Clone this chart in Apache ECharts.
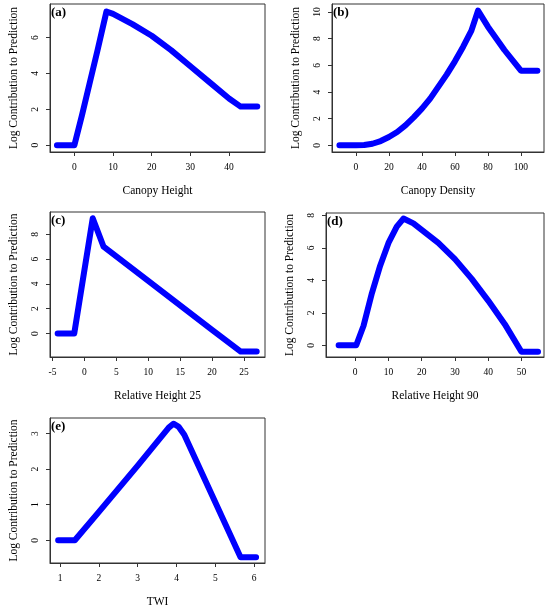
<!DOCTYPE html>
<html>
<head>
    <meta charset="utf-8">
    <title>Response curves</title>
    <script src="https://cdn.jsdelivr.net/npm/echarts@6/dist/echarts.min.js"></script>
    <style>
        html, body { margin: 0; padding: 0; background: #fff; }
    </style>
</head>
<body>
<div id="main" style="width: 550px;height:612px;"></div>

<script>
    // values
    var canopyHeightX = [-4.5, 0, 2, 4, 6, 8.3, 10, 15, 20, 25, 30, 35, 40, 43, 47.3];
    var canopyHeightY = [0, 0, 1.7, 3.5, 5.3, 7.45, 7.32, 6.75, 6.1, 5.3, 4.4, 3.5, 2.6, 2.15, 2.15];

    var canopyDensityX = [-10, 0, 5, 10, 15, 20, 25, 30, 35, 40, 45, 50, 55, 60, 65, 70, 74, 80, 90, 100, 110];
    var canopyDensityY = [0, 0, 0.02, 0.12, 0.32, 0.62, 1.0, 1.5, 2.1, 2.75, 3.5, 4.4, 5.3, 6.3, 7.4, 8.6, 10.1, 8.9, 7.15, 5.6, 5.6];

    var rh25X = [-4.2, -1.6, 1.3, 3, 10, 20, 24.5, 27];
    var rh25Y = [0, 0, 9.3, 7.0, 4.25, 0.3, -1.45, -1.45];

    var rh90X = [-5, 0.3, 2.5, 5, 7.5, 10, 12.5, 14.5, 17.5, 20, 25, 30, 35, 40, 45, 50, 55];
    var rh90Y = [0, 0, 1.2, 3.2, 4.9, 6.3, 7.3, 7.8, 7.5, 7.1, 6.3, 5.3, 4.1, 2.75, 1.3, -0.4, -0.4];

    var twiX = [0.95, 1.38, 2, 3, 3.8, 3.92, 4.05, 4.2, 5.65, 6.05];
    var twiY = [0, 0, 0.8, 2.1, 3.17, 3.28, 3.2, 2.97, -0.48, -0.48];

    var xTitles = ['Canopy Height', 'Canopy Density', 'Relative Height 25', 'Relative Height 90', 'TWI'];
    var panelTags = ['(a)', '(b)', '(c)', '(d)', '(e)'];
    var yTitle = 'Log Contribution to Prediction';

    var xTicks = [
        [0, 10, 20, 30, 40],
        [0, 20, 40, 60, 80, 100],
        [-5, 0, 5, 10, 15, 20, 25],
        [0, 10, 20, 30, 40, 50],
        [1, 2, 3, 4, 5, 6]
    ];
    var yTicks = [
        [0, 2, 4, 6],
        [0, 2, 4, 6, 8, 10],
        [0, 2, 4, 6, 8],
        [0, 2, 4, 6, 8],
        [0, 1, 2, 3]
    ];
    var xRanges = [[-6.3, 49.3], [-14.5, 114], [-5.4, 28.3], [-8.8, 56.8], [0.74, 6.28]];
    var yRanges = [[-0.38, 7.87], [-0.5, 10.6], [-1.89, 9.8], [-0.72, 8.14], [-0.64, 3.44]];

    var seriesX = [canopyHeightX, canopyDensityX, rh25X, rh90X, twiX];
    var seriesY = [canopyHeightY, canopyDensityY, rh25Y, rh90Y, twiY];

    // panel boxes in px
    var boxes = [
        {left: 50, top: 4, width: 215, height: 148},
        {left: 332, top: 4, width: 212, height: 148},
        {left: 50, top: 212, width: 215, height: 145},
        {left: 326, top: 213, width: 218, height: 144},
        {left: 50, top: 418, width: 215, height: 145}
    ];

    var serif = 'Liberation Serif';
    var ink = '#333';
    var grids = [], xAxes = [], yAxes = [], series = [], titles = [];

    function pairs(xs, ys) {
        var out = [];
        for (var i = 0; i < xs.length; i++) out.push([xs[i], ys[i]]);
        return out;
    }

    // labels + title live on the normal axis; ticks go on the opposite-side axis
    // pulled across the box with a negative offset (custom ticks drop out when
    // the same axis also has custom labels)
    function labelAxis(i, range, ticks, name, rotated) {
        return {
            type: 'value', gridIndex: i, position: rotated ? 'left' : 'bottom',
            min: range[0], max: range[1],
            name: name, nameLocation: 'middle', nameGap: rotated ? 30 : 33,
            nameRotate: rotated ? 90 : 0,
            nameTextStyle: {fontFamily: serif, fontSize: 11.5, color: '#000'},
            axisLine: {show: false, onZero: false},
            axisTick: {show: false},
            axisLabel: {customValues: ticks, rotate: rotated ? 90 : 0, fontFamily: serif, fontSize: 9.5, color: '#000', margin: 10},
            splitLine: {show: false}
        };
    }
    function tickAxis(i, range, ticks, rotated, span) {
        return {
            type: 'value', gridIndex: i, position: rotated ? 'right' : 'top',
            offset: -span,
            min: range[0], max: range[1],
            axisLine: {show: true, onZero: false, lineStyle: {color: ink, width: 1}},
            axisTick: {show: true, inside: true, length: 4, customValues: ticks, lineStyle: {color: ink, width: 1}},
            axisLabel: {show: false},
            splitLine: {show: false}
        };
    }

    for (var i = 0; i < 5; i++) {
        var b = boxes[i];
        grids.push({
            left: b.left, top: b.top, width: b.width, height: b.height,
            show: true, borderColor: ink, borderWidth: 1, backgroundColor: 'transparent'
        });
        xAxes.push(labelAxis(i, xRanges[i], xTicks[i], xTitles[i], false));
        xAxes.push(tickAxis(i, xRanges[i], xTicks[i], false, b.height));
        yAxes.push(labelAxis(i, yRanges[i], yTicks[i], yTitle, true));
        yAxes.push(tickAxis(i, yRanges[i], yTicks[i], true, b.width));
        series.push({
            type: 'line', xAxisIndex: 2 * i, yAxisIndex: 2 * i,
            data: pairs(seriesX[i], seriesY[i]),
            showSymbol: false, symbol: 'none', smooth: false,
            lineStyle: {color: '#0000ff', width: 6, cap: 'round', join: 'round'},
            silent: true, animation: false
        });
        titles.push({
            text: panelTags[i], left: b.left + 1, top: b.top + 2,
            padding: 0,
            textStyle: {fontFamily: serif, fontWeight: 'bold', fontSize: 13, color: '#000'}
        });
    }

    var chart = echarts.init(document.getElementById('main'));
    chart.setOption({
        backgroundColor: '#fff',
        animation: false,
        title: titles,
        grid: grids,
        xAxis: xAxes,
        yAxis: yAxes,
        series: series
    });
</script>
</body>
</html>
